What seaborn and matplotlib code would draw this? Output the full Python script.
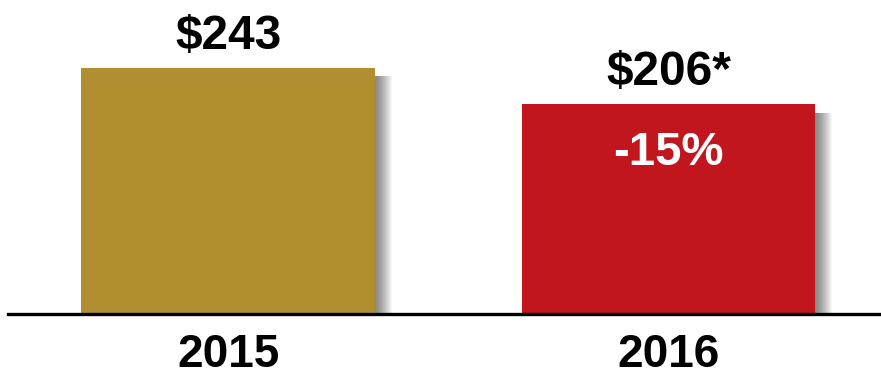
import matplotlib
matplotlib.use("Agg")
import matplotlib.pyplot as plt
import matplotlib.patheffects as pe
import seaborn as sns
import pandas as pd

years = ["2015", "2016"]
values = [243, 207]
value_labels = ["$243", "$206*"]
change_label = "-15%"
colors = ["#B18F30", "#C1161E"]

sns.set_theme(style="white")
plt.rcParams['font.family'] = ['Liberation Sans', 'DejaVu Sans']

fig = plt.figure(figsize=(8.81, 3.76), dpi=100)
ax = fig.add_axes([8/881, 62/376, 873/881, 314/376])

df = pd.DataFrame({"year": years, "value": values})
sns.barplot(data=df, x="year", y="value", hue="year", palette=colors,
            width=0.668, saturation=1, legend=False, ax=ax)

shadow = [pe.SimplePatchShadow(offset=(d * 0.75, -6), shadow_rgbFace="black", alpha=0.035)
          for d in range(1, 17)]
for p in ax.patches:
    p.set_path_effects(shadow + [pe.Normal()])
    p.set_edgecolor("none")

ax.set_xlim(-0.501, 1.483)
ax.set_ylim(0, 310)

for i, (v, lab) in enumerate(zip(values, value_labels)):
    ax.text(i, v + 9, lab, ha="center", va="bottom", fontsize=34.5,
            fontweight="bold", color="black")

ax.text(1, values[1] - 48, change_label, ha="center", va="center",
        fontsize=34, fontweight="bold", color="white")

for s in ["top", "right", "left"]:
    ax.spines[s].set_visible(False)
ax.spines["bottom"].set_linewidth(2.4)
ax.spines["bottom"].set_color("black")
ax.set_yticks([])
ax.set_xlabel("")
ax.set_ylabel("")
ax.tick_params(axis="x", length=0, pad=14, labelsize=33, labelcolor="black")
for t in ax.get_xticklabels():
    t.set_fontweight("bold")

fig.savefig("out.png", dpi=100)
